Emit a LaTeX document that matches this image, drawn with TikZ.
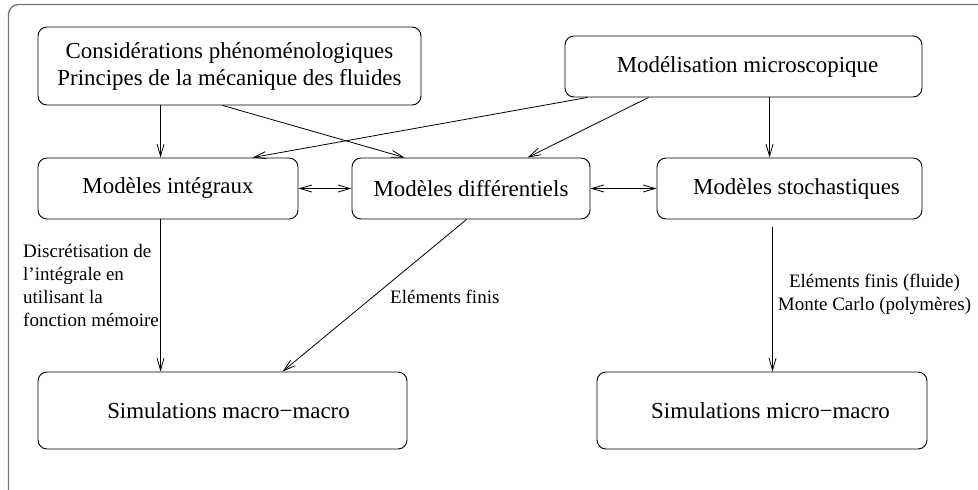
\documentclass[tikz,border=0pt]{standalone}
\usepackage{fontspec}
\setmainfont{Liberation Serif}
\usetikzlibrary{arrows.meta}
\begin{document}
\begin{tikzpicture}[x=1pt,y=-1pt,
  box/.style={draw, rounded corners=9pt, line width=0.9pt, font=\fontsize{22.9}{27}\selectfont, align=center, inner sep=0pt},
  tip/.tip={Straight Barb[length=12pt,width=7pt,line width=0.8pt]},
  arr/.style={-tip, line width=0.8pt},
  darr/.style={tip-tip, line width=0.8pt},
  lbl/.style={font=\fontsize{19}{23}\selectfont, inner sep=0pt}]
\useasboundingbox (0,0) rectangle (978,490);
\begin{scope}
  \clip (0,0) rectangle (978,490);
  \draw[black!55, line width=1.3pt, rounded corners=10pt] (8.5,4.5) rectangle (1010,530);
\end{scope}

\node[box, minimum width=383pt, minimum height=78pt] (cp) at (229.5,66)
  {Considérations phénoménologiques\\Principes de la mécanique des fluides};
\node[box, minimum width=357pt, minimum height=61pt] (mm) at (743.5,66.5)
  {\hspace*{8pt}Modélisation microscopique};
\node[box, minimum width=260pt, minimum height=61pt] (mi) at (168,188.5)
  {Modèles intégraux};
\node[box, minimum width=238pt, minimum height=61pt] (md) at (471,188.5)
  {Modèles différentiels};
\node[box, minimum width=265pt, minimum height=61pt] (ms) at (789.5,188.5)
  {\hspace*{14pt}Modèles stochastiques};
\node[box, minimum width=369pt, minimum height=77pt] (sa) at (222.5,410.5)
  {\hspace*{12pt}Simulations macro−macro};
\node[box, minimum width=330pt, minimum height=77pt] (sb) at (762,410.5)
  {\hspace*{17pt}Simulations micro−macro};

\draw[arr] ([xshift=123pt]cp.south west) -- ([xshift=123pt]mi.north west);
\draw[arr] ([xshift=185pt]cp.south west) -- ([xshift=53pt]md.north west);
\draw[arr] ([xshift=23pt]mm.south west) -- ([xshift=215pt]mi.north west);
\draw[arr] ([xshift=84pt]mm.south west) -- ([xshift=176pt]md.north west);
\draw[arr] ([xshift=205pt]mm.south west) -- ([xshift=113pt]ms.north west);
\draw[darr] (mi.east) -- (md.west);
\draw[darr] (md.east) -- (ms.west);
\draw[arr] ([xshift=123pt]mi.south west) -- ([xshift=123pt]sa.north west);
\draw[arr] ([xshift=115pt]md.south west) -- ([xshift=245pt]sa.north west);
\draw[arr] ([xshift=116pt,yshift=-8pt]ms.south west) -- ([xshift=176pt]sb.north west);

\node[lbl, align=left, anchor=north west] (l1) at (23,244)
  {Discrétisation de\\l’intégrale en\\utilisant la\\fonction mémoire};
\node[lbl, anchor=base west] (l2) at (390,303) {Eléments finis};
\node[lbl, align=center, anchor=north] (l3) at (874.5,274)
  {Eléments finis (fluide)\\Monte Carlo (polymères)};
\end{tikzpicture}
\end{document}
